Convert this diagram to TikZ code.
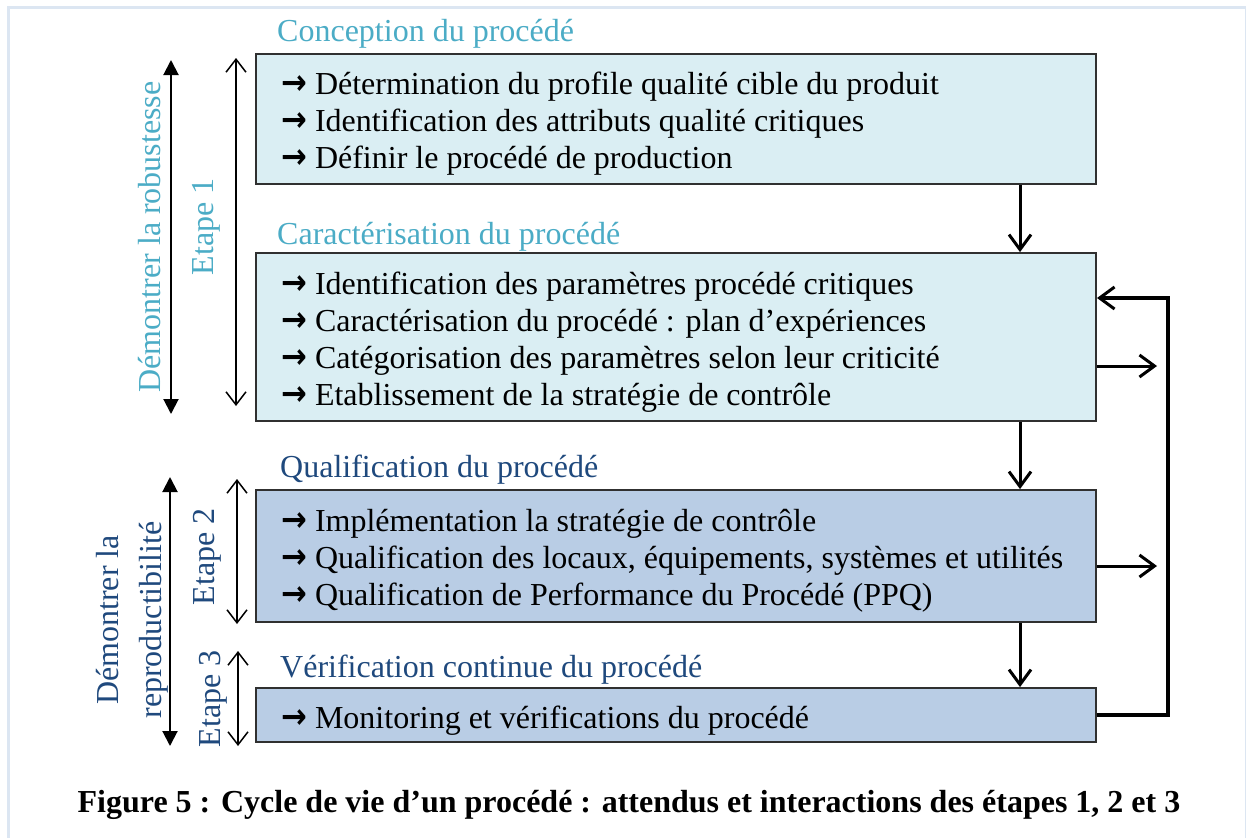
\documentclass[tikz,border=0pt]{standalone}
\usepackage{fontspec}
\usepackage{graphicx}
\setmainfont{Liberation Serif}
\newfontfamily\arrfont{DejaVu Sans}
\usetikzlibrary{arrows.meta}
\definecolor{teal1}{HTML}{4BACC6}
\definecolor{navy1}{HTML}{1F497D}
\definecolor{fillA}{HTML}{DAEEF3}
\definecolor{fillB}{HTML}{B9CDE5}
\definecolor{frameC}{HTML}{DCE6F2}
\definecolor{edgeC}{HTML}{303030}
\newcommand{\ar}{\scalebox{0.88}[1]{\arrfont\bfseries\fontsize{35}{35}\selectfont →}\ }
\tikzset{
  box/.style={draw=edgeC, line width=1.8pt, minimum width=840pt, inner sep=0pt},
  txtline/.style={anchor=base west, inner sep=0pt, font=\fontsize{32}{37}\selectfont},
  ttl/.style={anchor=base west, inner sep=0pt, font=\fontsize{32}{37}\selectfont},
  vtxt/.style={anchor=base, rotate=90, inner sep=0pt, font=\fontsize{32}{37}\selectfont},
}
\begin{document}
\begin{tikzpicture}[x=1pt,y=-1pt]
\useasboundingbox (0,0) rectangle (1246,838);
\fill[white] (0,0) rectangle (1246,838);
% frame
\draw[frameC, line width=3pt] (7,7) -- (1246,7);
\draw[frameC, line width=3pt] (8,7) -- (8,838);
\draw[frameC, line width=1pt] (1245,7) -- (1245,838);

% boxes
\node[box, fill=fillA, minimum height=130pt] (b1) at (676,119) {};
\node[box, fill=fillA, minimum height=168pt] (b2) at (676,337) {};
\node[box, fill=fillB, minimum height=132pt] (b3) at (676,556) {};
\node[box, fill=fillB, minimum height=54pt] (b4) at (676,715) {};

% titles
\node[ttl, text=teal1] (t1) at (277,41) {Conception du procédé};
\node[ttl, text=teal1] (t2) at (277,244) {Caractérisation du procédé};
\node[ttl, text=navy1] (t3) at (280,477) {Qualification du procédé};
\node[ttl, text=navy1] (t4) at (280,677) {Vérification continue du procédé};

% box lines
\node[txtline] (l11) at (281,94) {\ar Détermination du profile qualité cible du produit};
\node[txtline] (l12) at (281,131) {\ar Identification des attributs qualité critiques};
\node[txtline] (l13) at (281,168) {\ar Définir le procédé de production};
\node[txtline] (l21) at (281,294) {\ar Identification des paramètres procédé critiques};
\node[txtline] (l22) at (281,331) {\ar Caractérisation du procédé : plan d’expériences};
\node[txtline] (l23) at (281,368) {\ar Catégorisation des paramètres selon leur criticité};
\node[txtline] (l24) at (281,405) {\ar Etablissement de la stratégie de contrôle};
\node[txtline] (l31) at (281,531) {\ar Implémentation la stratégie de contrôle};
\node[txtline] (l32) at (281,568) {\ar Qualification des locaux, équipements, systèmes et utilités};
\node[txtline] (l33) at (281,605) {\ar Qualification de Performance du Procédé (PPQ)};
\node[txtline] (l41) at (281,728) {\ar Monitoring et vérifications du procédé};

% flow arrows down
\coordinate (ax) at (1020,0);
\draw[line width=3pt, -{Straight Barb[length=15pt,width=22pt,line width=3pt]}] (b1.south -| ax) -- (b2.north -| ax);
\draw[line width=3pt, -{Straight Barb[length=15pt,width=22pt,line width=3pt]}] (b2.south -| ax) -- (b3.north -| ax);
\draw[line width=3pt, -{Straight Barb[length=15pt,width=22pt,line width=3pt]}] (b3.south -| ax) -- (b4.north -| ax);

% feedback loop
\coordinate (lx) at (1168,0);
\coordinate (in2) at (1097,298);
\coordinate (o2) at (1157,366);
\coordinate (o3) at (1157,566);
\draw[line width=3.8pt, line join=miter, -{Straight Barb[length=15pt,width=22pt,line width=3pt]}]
  (b4.east |- 0,715) -- (lx |- 0,715) -- (lx |- in2) -- (in2);
\draw[line width=3pt, -{Straight Barb[length=15pt,width=22pt,line width=3pt]}] (b2.east |- o2) -- (o2);
\draw[line width=3pt, -{Straight Barb[length=15pt,width=22pt,line width=3pt]}] (b3.east |- o3) -- (o3);

% left arrows
\coordinate (r1a) at (171,60);
\coordinate (r1b) at (171,414);
\draw[line width=2pt, {Triangle[length=15pt,width=15pt]}-{Triangle[length=15pt,width=15pt]}] (r1a) -- (r1b);
\coordinate (e1a) at (236,58);
\coordinate (e1b) at (236,406);
\draw[line width=1.5pt, {Straight Barb[length=13pt,width=20pt,line width=1.5pt]}-{Straight Barb[length=13pt,width=20pt,line width=1.5pt]}] (e1a) -- (e1b);
\coordinate (r2a) at (170,477);
\coordinate (r2b) at (170,746);
\draw[line width=2pt, {Triangle[length=15pt,width=15pt]}-{Triangle[length=15pt,width=15pt]}] (r2a) -- (r2b);
\coordinate (e2a) at (237,479);
\coordinate (e2b) at (237,624);
\draw[line width=1.5pt, {Straight Barb[length=13pt,width=20pt,line width=1.5pt]}-{Straight Barb[length=13pt,width=20pt,line width=1.5pt]}] (e2a) -- (e2b);
\coordinate (e3a) at (238,651);
\coordinate (e3b) at (238,746);
\draw[line width=1.5pt, {Straight Barb[length=13pt,width=20pt,line width=1.5pt]}-{Straight Barb[length=13pt,width=20pt,line width=1.5pt]}] (e3a) -- (e3b);

% vertical labels
\node[vtxt, text=teal1] (v1) at (160,237) {Démontrer la robustesse};
\node[vtxt, text=teal1] (v2) at (213,227) {Etape 1};
\node[vtxt, text=navy1] (v3) at (118,620) {Démontrer la};
\node[vtxt, text=navy1] (v4) at (161,620) {reproductibilité};
\node[vtxt, text=navy1] (v5) at (214,557) {Etape 2};
\node[vtxt, text=navy1] (v6) at (220,699) {Etape 3};

% caption
\node[anchor=base, inner sep=0pt, font=\bfseries\fontsize{32}{36}\selectfont] (cap) at (629,812)
  {Figure 5 : Cycle de vie d’un procédé : attendus et interactions des étapes 1, 2 et 3};
\end{tikzpicture}
\end{document}
